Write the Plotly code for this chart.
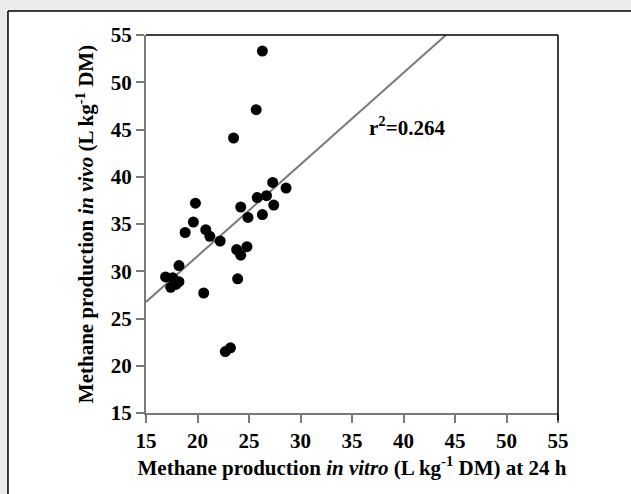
import plotly.graph_objects as go

# Data
in_vitro = [26.3, 25.7, 23.5, 27.3, 28.6, 26.7, 25.8, 19.8, 24.2, 27.4,
            24.9, 26.3, 19.6, 18.8, 20.8, 21.2, 22.2, 23.8, 24.8, 24.2,
            18.2, 16.9, 17.6, 18.2, 17.4, 17.9, 23.9, 20.6, 22.7, 23.2]
in_vivo = [53.3, 47.1, 44.1, 39.4, 38.8, 38.0, 37.8, 37.2, 36.8, 37.0,
           35.7, 36.0, 35.2, 34.1, 34.4, 33.7, 33.2, 32.3, 32.6, 31.7,
           30.6, 29.4, 29.3, 28.9, 28.3, 28.6, 29.2, 27.7, 21.5, 21.9]

# Regression line
slope = 0.97
intercept = 12.2
r2_label = "r<sup>2</sup>=0.264"

x_range = [15, 55]
y_range = [15, 55]
tick_vals = [15, 20, 25, 30, 35, 40, 45, 50, 55]

FONT = "Liberation Serif"

# line endpoints computed from the axis range, clipped to the y-range
x_start = x_range[0]
x_end = (y_range[1] - intercept) / slope
line_x = [x_start, x_end]
line_y = [slope * v + intercept for v in line_x]

fig = go.Figure()
fig.add_trace(go.Scatter(
    x=line_x, y=line_y, mode="lines",
    line=dict(color="#7a7a7a", width=2), hoverinfo="skip", showlegend=False,
))
fig.add_trace(go.Scatter(
    x=in_vitro, y=in_vivo, mode="markers",
    marker=dict(color="black", size=11, line=dict(width=0)),
    showlegend=False,
))

fig.add_annotation(
    x=36.5, y=45.3, xref="x", yref="y", text=r2_label, showarrow=False,
    xanchor="left", yanchor="middle",
    font=dict(family=FONT, size=21, color="black", weight="bold"),
)

# white panel on gray page, border only on left and top edges
panel_x0, panel_y1 = -0.335, 1.0635
fig.add_shape(type="rect", xref="paper", yref="paper",
              x0=panel_x0, x1=1.5, y0=-0.5, y1=panel_y1,
              fillcolor="white", line=dict(width=0), layer="below")
fig.add_shape(type="line", xref="paper", yref="paper",
              x0=panel_x0, x1=1.5, y0=panel_y1, y1=panel_y1,
              line=dict(color="black", width=1.5), layer="below")
fig.add_shape(type="line", xref="paper", yref="paper",
              x0=panel_x0, x1=panel_x0, y0=-0.5, y1=panel_y1,
              line=dict(color="black", width=1.5), layer="below")
# top & right frame lines of the plot area
fig.add_shape(type="line", xref="paper", yref="paper", x0=0, x1=1, y0=1, y1=1,
              line=dict(color="black", width=1.5))
fig.add_shape(type="line", xref="paper", yref="paper", x0=1, x1=1, y0=-0.02, y1=1,
              line=dict(color="black", width=1.5))

axis_common = dict(
    showgrid=False, zeroline=False, showline=True, linecolor="#7a7a7a", linewidth=2,
    ticks="outside", ticklen=8, tickcolor="#7a7a7a", tickwidth=1.5,
    tickvals=tick_vals,
    tickfont=dict(family=FONT, size=21, color="black", weight="bold"),
)

fig.update_layout(
    width=631, height=494,
    margin=dict(l=146, r=73, t=35, b=81),
    paper_bgcolor="#ebebeb", plot_bgcolor="white",
    xaxis=dict(range=x_range, title=dict(
        text="Methane production <i>in vitro</i> (L kg<sup>-1</sup> DM) at 24 h",
        font=dict(family=FONT, size=21, color="black", weight="bold"), standoff=6),
        **axis_common),
    yaxis=dict(range=y_range, title=dict(
        text="Methane production <i>in vivo</i> (L kg<sup>-1</sup> DM)",
        font=dict(family=FONT, size=21, color="black", weight="bold"), standoff=11),
        **axis_common),
)

fig.write_html("out.html")
